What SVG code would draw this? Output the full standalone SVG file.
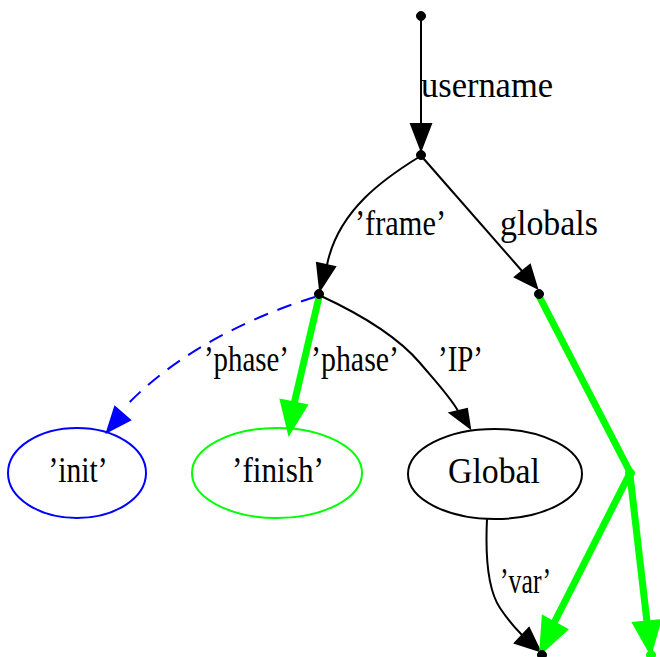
<svg xmlns="http://www.w3.org/2000/svg" width="660" height="657" viewBox="0 0 660 657">
<style>
text{font-family:"Liberation Serif","Times New Roman","DejaVu Serif",serif;font-size:35px;fill:#000}
.blk{fill:none;stroke:#000;stroke-width:2}
.blkh{fill:#000;stroke:#000;stroke-width:2}
.grn{fill:none;stroke:#00ff00;stroke-width:7}
.grnh{fill:#00ff00;stroke:#00ff00;stroke-width:7;stroke-linejoin:miter}
.blu{fill:none;stroke:#0000ff;stroke-width:2;stroke-dasharray:15,10}
.bluh{fill:#0000ff;stroke:#0000ff;stroke-width:2}
.pt{fill:#000;stroke:#000}
.gpt{fill:#00ff00;stroke:#00ff00}
</style>
<rect width="660" height="657" fill="#fff"/>
<g id="edges">
  <g id="e_user">
    <path class="blk" d="M421,16 L421,124"/>
    <polygon class="blkh" points="411,124 431,124 421,150"/>
    <text x="421" y="97" textLength="132" lengthAdjust="spacingAndGlyphs">username</text>
  </g>
  <g id="e_frame">
    <path class="blk" d="M419,157 C385,178 338,210 327,265"/>
    <polygon class="blkh" points="317,263 335,267 320,290"/>
    <text x="355" y="235" textLength="91" lengthAdjust="spacingAndGlyphs">’frame’</text>
  </g>
  <g id="e_globals">
    <path class="blk" d="M423,158 L522,271"/>
    <polygon class="blkh" points="515,277 530,265 537,288"/>
    <text x="500" y="235" textLength="98" lengthAdjust="spacingAndGlyphs">globals</text>
  </g>
  <g id="e_init">
    <path class="blu" d="M315,297 C262,313 180,348 124,408"/>
    <polygon class="bluh" points="115,407 130,420 107,432"/>
    <text x="204" y="371" textLength="85" lengthAdjust="spacingAndGlyphs">’phase’</text>
  </g>
  <g id="e_finish">
    <path class="grn" d="M319,297 L294,404"/>
    <polygon class="grnh" points="284,403 303,407 290,428"/>
    <text x="311" y="371" textLength="88" lengthAdjust="spacingAndGlyphs">’phase’</text>
  </g>
  <g id="e_ip">
    <path class="blk" d="M321,296 C362,315 397,336 420,363 C437,383 451,398 458,411"/>
    <polygon class="blkh" points="450,413 467,409 470,428"/>
    <text x="438" y="371" textLength="45" lengthAdjust="spacingAndGlyphs">’IP’</text>
  </g>
  <g id="e_gl_green">
    <path class="grn" d="M539,296 L630,472"/>
  </g>
  <g id="e_var">
    <path class="blk" d="M487,519 C485,560 488,590 500,608 C508,620 515,628 522,635"/>
    <polygon class="blkh" points="515,643 529,628 540,651"/>
    <text x="500" y="593" textLength="51" lengthAdjust="spacingAndGlyphs">’var’</text>
  </g>
  <g id="e_g1">
    <path class="grn" d="M629,475 L554,623"/>
    <polygon class="grnh" points="545,620 563,630 543,648"/>
  </g>
  <g id="e_g2">
    <path class="grn" d="M630,475 L647,622"/>
    <polygon class="grnh" points="637,625 657,623 650,648"/>
  </g>
</g>
<g id="n_top"><circle class="pt" cx="421" cy="16" r="4.5"/></g>
<g id="n_user"><circle class="pt" cx="421" cy="155" r="4.5"/></g>
<g id="n_frame"><circle class="pt" cx="319" cy="294" r="4.5"/></g>
<g id="n_globals"><circle class="pt" cx="539" cy="294" r="4.5"/></g>
<g id="n_init">
  <ellipse cx="77" cy="473" rx="69" ry="45" fill="none" stroke="#0000ff" stroke-width="2"/>
  <text x="78" y="482" text-anchor="middle" textLength="59" lengthAdjust="spacingAndGlyphs">’init’</text>
</g>
<g id="n_finish">
  <ellipse cx="277" cy="473" rx="85" ry="45" fill="none" stroke="#00ff00" stroke-width="2"/>
  <text x="278" y="482" text-anchor="middle" textLength="92" lengthAdjust="spacingAndGlyphs">’finish’</text>
</g>
<g id="n_global">
  <ellipse cx="495" cy="474" rx="87" ry="45" fill="none" stroke="#000" stroke-width="2"/>
  <text x="494" y="483" text-anchor="middle" textLength="92" lengthAdjust="spacingAndGlyphs">Global</text>
</g>
<g id="n_gmid"><circle class="gpt" cx="630" cy="473" r="4.5"/></g>
<g id="n_bot1"><circle class="pt" cx="542" cy="655" r="4.5"/></g>
<g id="n_bot2"><circle class="gpt" cx="651" cy="655" r="4.5"/></g>
</svg>
